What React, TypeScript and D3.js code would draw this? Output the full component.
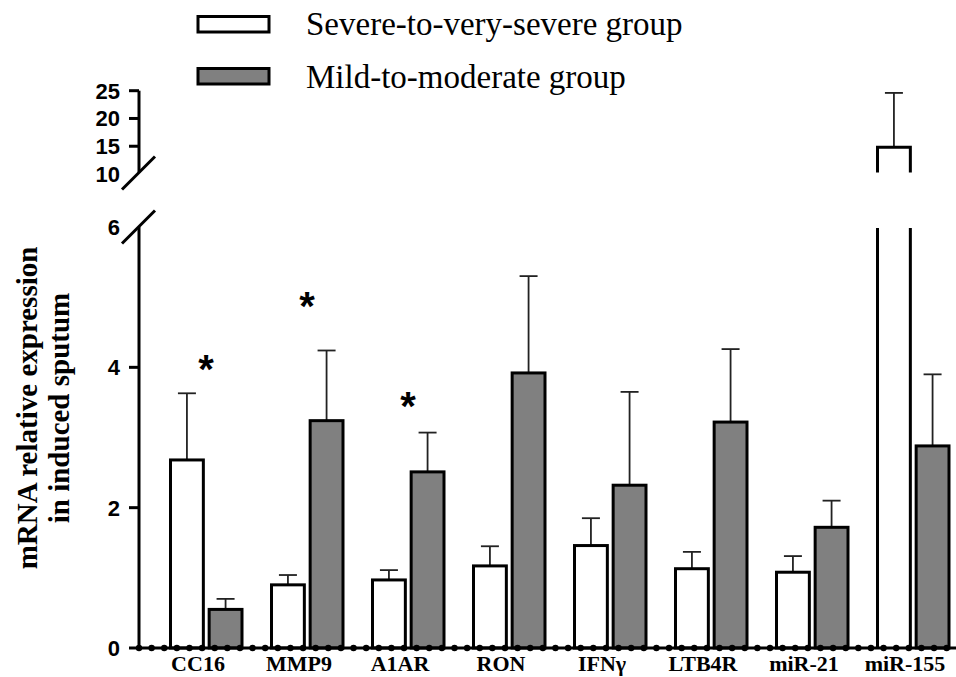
import React from "react";
import * as d3 from "d3";

const categories = ["CC16", "MMP9", "A1AR", "RON", "IFNγ", "LTB4R", "miR-21", "miR-155"];
const severeMean = [2.68, 0.9, 0.97, 1.17, 1.46, 1.13, 1.08, 14.8];
const severeErr = [0.95, 0.14, 0.14, 0.28, 0.39, 0.24, 0.23, 9.8];
const mildMean = [0.55, 3.24, 2.51, 3.92, 2.32, 3.22, 1.72, 2.88];
const mildErr = [0.15, 1.0, 0.56, 1.38, 1.33, 1.04, 0.38, 1.02];
const groups = ["Severe-to-very-severe group", "Mild-to-moderate group"];
const lowerTicks = [0, 2, 4, 6];
const upperTicks = [10, 15, 20, 25];
// significance markers: category + height (data units, lower scale)
const stars = [
  { cat: "CC16", y: 4.11 },
  { cat: "MMP9", y: 5.0 },
  { cat: "A1AR", y: 3.58 },
];

const W = 956;
const H = 677;
const axisX = 139;
const baseY = 648;
const breakLow = 227; // top of lower segment
const breakHigh = 172.5; // bottom of upper segment

const fills = ["#ffffff", "#808080"];
const SANS = "'Liberation Sans', Arial, sans-serif";
const SERIF = "'Liberation Serif', 'Times New Roman', serif";

export default function App() {
  const x = d3.scaleBand<string>().domain(categories).range([155.5, 963.5]);
  const xs = d3
    .scaleBand<number>()
    .domain([0, 1])
    .range([15, 86.5])
    .paddingInner(0.15);
  const yLow = d3.scaleLinear().domain([0, 6]).range([baseY, breakLow]);
  const yUp = d3.scaleLinear().domain([10, 25]).range([174, 90.7]);

  const bw = xs.bandwidth();
  const series = [
    { mean: severeMean, err: severeErr },
    { mean: mildMean, err: mildErr },
  ];

  const dots = d3.range(axisX, W, 12.62);
  const capW = 18;

  const bars: React.ReactNode[] = [];
  categories.forEach((c, i) => {
    series.forEach((s, k) => {
      const x0 = (x(c) as number) + (xs(k) as number);
      const cx = x0 + bw / 2;
      const v = s.mean[i];
      const e = s.err[i];
      if (v <= 6) {
        const top = yLow(v);
        const et = yLow(v + e);
        bars.push(
          <g key={`${c}-${k}`}>
            <line x1={cx} x2={cx} y1={top} y2={et} stroke="#222" strokeWidth={1.8} />
            <line x1={cx - capW / 2} x2={cx + capW / 2} y1={et} y2={et} stroke="#222" strokeWidth={1.8} />
            <rect x={x0} y={top} width={bw} height={baseY - top} fill={fills[k]} stroke="#000" strokeWidth={3} />
          </g>
        );
      } else {
        // broken bar, drawn in both axis segments
        const top = yUp(v);
        const et = yUp(v + e);
        bars.push(
          <g key={`${c}-${k}`}>
            <line x1={cx} x2={cx} y1={top} y2={et} stroke="#222" strokeWidth={1.8} />
            <line x1={cx - capW / 2} x2={cx + capW / 2} y1={et} y2={et} stroke="#222" strokeWidth={1.8} />
            <rect x={x0} y={top} width={bw} height={breakHigh - top} fill={fills[k]} />
            <path
              d={`M${x0},${breakHigh}V${top}H${x0 + bw}V${breakHigh}`}
              fill="none"
              stroke="#000"
              strokeWidth={3}
            />
            <rect x={x0} y={breakLow} width={bw} height={baseY - breakLow} fill={fills[k]} />
            <path
              d={`M${x0},${breakLow + 1}V${baseY}M${x0 + bw},${breakLow + 1}V${baseY}`}
              fill="none"
              stroke="#000"
              strokeWidth={3}
            />
          </g>
        );
      }
    });
  });

  return (
    <svg
      width={W}
      height={H}
      style={{ position: "absolute", left: 0, top: 0, background: "#fff" }}
    >
      {/* legend */}
      {groups.map((g, k) => (
        <g key={g}>
          <rect
            x={198}
            y={k === 0 ? 16.5 : 68.5}
            width={71}
            height={15.5}
            fill={fills[k]}
            stroke="#000"
            strokeWidth={3}
          />
          <text x={306} y={k === 0 ? 35 : 88} fontFamily={SERIF} fontSize={33} fill="#000">
            {g}
          </text>
        </g>
      ))}

      {/* y label */}
      <g fontFamily={SERIF} fontWeight="bold" fontSize={29} textAnchor="middle">
        <text transform={`translate(37,408) rotate(-90)`}>mRNA relative expression</text>
        <text transform={`translate(68.5,408) rotate(-90)`}>in induced sputum</text>
      </g>

      {bars}

      {/* significance */}
      {stars.map((s) => (
        <text
          key={s.cat}
          x={(x(s.cat) as number) + x.bandwidth() / 2}
          y={yLow(s.y) + 23}
          textAnchor="middle"
          fontFamily={SANS}
          fontWeight="bold"
          fontSize={40}
        >
          *
        </text>
      ))}

      {/* y axis: lower segment */}
      <line x1={axisX} x2={axisX} y1={breakLow} y2={baseY} stroke="#000" strokeWidth={3} />
      {lowerTicks.map((t) => (
        <g key={`l${t}`}>
          {t !== 6 && (
            <line x1={axisX - 10} x2={axisX} y1={yLow(t)} y2={yLow(t)} stroke="#000" strokeWidth={3} />
          )}
          <text
            x={120}
            y={yLow(t) + 8}
            textAnchor="end"
            fontFamily={SANS}
            fontWeight="bold"
            fontSize={22}
          >
            {t}
          </text>
        </g>
      ))}
      {/* y axis: upper segment */}
      <line x1={axisX} x2={axisX} y1={yUp(25)} y2={breakHigh} stroke="#000" strokeWidth={3} />
      {upperTicks.map((t) => (
        <g key={`u${t}`}>
          {t !== 10 && (
            <line x1={axisX - 10} x2={axisX} y1={yUp(t)} y2={yUp(t)} stroke="#000" strokeWidth={3} />
          )}
          <text
            x={120}
            y={yUp(t) + 8}
            textAnchor="end"
            fontFamily={SANS}
            fontWeight="bold"
            fontSize={22}
          >
            {t}
          </text>
        </g>
      ))}
      {/* break marks */}
      <line x1={122} y1={189.5} x2={155} y2={156.5} stroke="#000" strokeWidth={3} />
      <line x1={122} y1={243.5} x2={155} y2={210.5} stroke="#000" strokeWidth={3} />

      {/* x axis with dots */}
      <line x1={axisX} x2={W} y1={baseY} y2={baseY} stroke="#000" strokeWidth={3} />
      {dots.map((d, i) => (
        <circle key={i} cx={d} cy={baseY} r={3.2} fill="#000" />
      ))}
      {categories.map((c) => (
        <text
          key={c}
          x={(x(c) as number) + x.bandwidth() / 2 - 8}
          y={671}
          textAnchor="middle"
          fontFamily={SERIF}
          fontWeight="bold"
          fontSize={22}
        >
          {c}
        </text>
      ))}
    </svg>
  );
}
